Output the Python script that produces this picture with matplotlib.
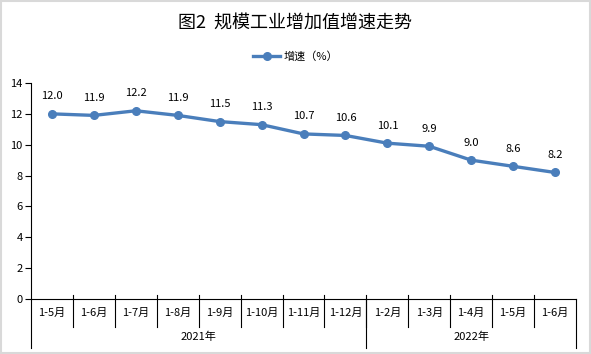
import matplotlib
matplotlib.use('Agg')
import matplotlib.pyplot as plt
from matplotlib.patches import Rectangle

plt.rcParams['font.family'] = ['Noto Sans CJK SC', 'DejaVu Sans']

# data
months = ['1-5月', '1-6月', '1-7月', '1-8月', '1-9月', '1-10月', '1-11月', '1-12月',
          '1-2月', '1-3月', '1-4月', '1-5月', '1-6月']
growth = [12.0, 11.9, 12.2, 11.9, 11.5, 11.3, 10.7, 10.6, 10.1, 9.9, 9.0, 8.6, 8.2]
years = ['2021年', '2022年']
year_counts = [8, 5]
y_ticks = [0, 2, 4, 6, 8, 10, 12, 14]

fig = plt.figure(figsize=(5.91, 3.54), dpi=100)
fig.patches.append(Rectangle((0.002, 0.003), 0.996, 0.994, transform=fig.transFigure,
                             fill=False, edgecolor='#d9d9d9', linewidth=1.5))

ax = fig.add_axes([31 / 591, 55 / 354, 545 / 591, 216 / 354])
x = list(range(len(months)))
line, = ax.plot(x, growth, color='#4a7ebb', linewidth=2.4, marker='o', markersize=5.5,
                label='增速（%）')

for xi, v in zip(x, growth):
    ax.annotate(f'{v:.1f}', (xi, v), xytext=(0, 9), textcoords='offset points',
                ha='center', va='bottom', fontsize=8)

ax.set_xlim(-0.5, len(months) - 0.5)
ax.set_ylim(0, 14)
ax.set_yticks(y_ticks)
ax.tick_params(axis='y', labelsize=8, length=4, width=0.8, pad=2)
ax.set_xticks([])
for s in ['top', 'right']:
    ax.spines[s].set_visible(False)
ax.spines['left'].set_linewidth(0.8)
ax.spines['bottom'].set_linewidth(0.8)

# category labels and separators
trans = ax.get_xaxis_transform()
for xi, m in zip(x, months):
    ax.text(xi, -0.065, m, transform=trans, ha='center', va='center', fontsize=8)
for b in range(1, len(months)):
    ax.plot([b - 0.5, b - 0.5], [0.02, -0.13], transform=trans, color='black',
            linewidth=0.8, clip_on=False)

# year groups
start = -0.5
bounds = [start]
for name, n in zip(years, year_counts):
    ax.text(start + n / 2, -0.175, name, transform=trans, ha='center', va='center', fontsize=8)
    start += n
    bounds.append(start)
for b in bounds:
    ax.plot([b, b], [0, -0.225], transform=trans, color='black', linewidth=0.8, clip_on=False)

fig.text(0.5, 0.935, '图2  规模工业增加值增速走势', ha='center', va='center', fontsize=13)
fig.legend(handles=[line], loc='center', bbox_to_anchor=(0.5, 0.84), frameon=False,
           fontsize=8, handlelength=2.5, handletextpad=0.3)

fig.savefig('out.png', dpi=100)
